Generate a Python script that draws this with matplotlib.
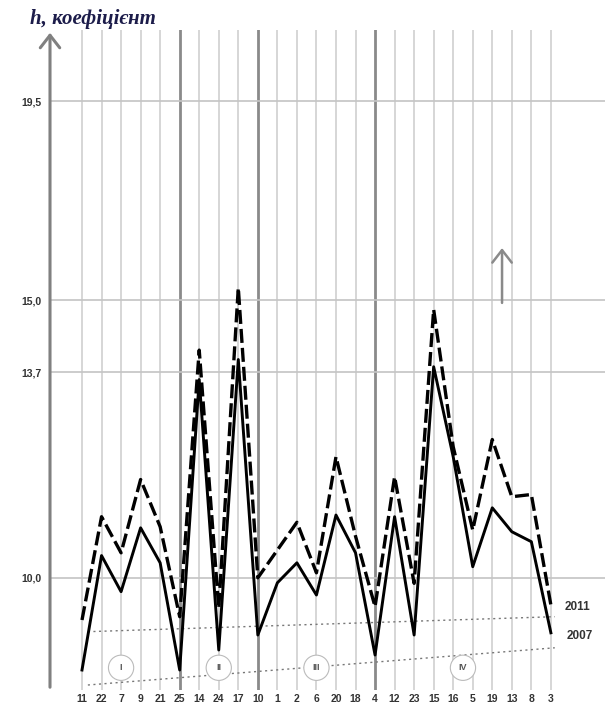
import numpy as np
import matplotlib
matplotlib.use('Agg')
import matplotlib.pyplot as plt

# дані з графіка
mista = ['11', '22', '7', '9', '21', '25', '14', '24', '17', '10', '1', '2', '6',
         '20', '18', '4', '12', '23', '15', '16', '5', '19', '13', '8', '3']
h_2007 = [8.34, 10.40, 9.75, 10.90, 10.27, 8.34, 13.57, 8.70, 13.93, 8.97, 9.91, 10.27, 9.69,
          11.13, 10.45, 8.61, 11.10, 8.97, 13.80, 12.18, 10.20, 11.26, 10.83, 10.65, 9.01]
h_2011 = [9.24, 11.10, 10.45, 11.77, 10.92, 9.30, 14.10, 9.45, 15.28, 10.00, 10.50, 11.00, 10.09,
          12.18, 10.75, 9.48, 11.82, 9.90, 14.83, 12.36, 10.86, 12.49, 11.46, 11.50, 9.51]
trend_x = [0.3, 24.2]
trend_2011 = [9.03, 9.30]
trend_2007 = [8.07, 8.74]
y_ticks = [10.0, 13.7, 15.0, 19.5]
y_labels = ['10,0', '13,7', '15,0', '19,5']
zony = ['I', 'II', 'III', 'IV']
zony_x = [2, 7, 12, 19.5]
grupy = [5, 9, 15]  # товсті лінії між зонами

# вісь y стиснута вище 15
k = 0.796
def fwd(v):
    return np.interp(v, [-100, 15, 100], [-100, 15, 15 + 85 * k])
def inv(u):
    return np.interp(u, [-100, 15, 15 + 85 * k], [-100, 15, 100])

fig = plt.figure(figsize=(6.09, 7.06), dpi=100)
ax = fig.add_axes([50 / 609, 1 - 690 / 706, 555 / 609, 660 / 706])
ax.set_yscale('function', functions=(fwd, inv))
ax.set_xlim(-1.638, 26.77)
ax.set_ylim(7.98, 21.11)
for s in ax.spines.values():
    s.set_visible(False)

x = np.arange(len(mista))
for i in x:
    if i in grupy:
        ax.axvline(i, color='#8a8a8a', lw=2.0, zorder=1)
    else:
        ax.axvline(i, color='#d0d0d0', lw=1.2, zorder=1)
for v in y_ticks:
    ax.axhline(v, color='#c4c4c4', lw=1.2, zorder=1)

ax.plot(trend_x, trend_2011, color='#777777', lw=1, ls=(0, (1.5, 2.5)), zorder=2)
ax.plot(trend_x, trend_2007, color='#777777', lw=1, ls=(0, (1.5, 2.5)), zorder=2)

ax.plot(x, h_2011, color='black', lw=2.4, ls=(0, (4.2, 1.5)), zorder=3)
ax.plot(x, h_2007, color='black', lw=2.1, zorder=4)

ax.set_xticks(x)
ax.set_xticklabels(mista, fontsize=7.5, fontweight='bold', color='#333333',
                   family='Liberation Sans')
ax.set_yticks(y_ticks)
ax.set_yticklabels(y_labels, fontsize=7.5, fontweight='bold', color='#333333',
                   family='Liberation Sans')
ax.tick_params(length=0, pad=3)
ax.tick_params(axis='y', pad=6)

for z, zx in zip(zony, zony_x):
    ax.text(zx, 8.38, z, ha='center', va='center', fontsize=6.5, fontweight='bold',
            color='#555555', family='Liberation Sans',
            bbox=dict(boxstyle='circle,pad=0.9', fc='white', ec='#bbbbbb', lw=0.8),
            zorder=5)

ax.text(24.7, 9.48, '2011', fontsize=8.5, fontweight='bold', color='#333333',
        va='center', family='Liberation Sans')
ax.text(24.8, 8.955, '2007', fontsize=8.5, fontweight='bold', color='#333333',
        va='center', family='Liberation Sans')

# вісь зі стрілкою
ax.annotate('', xy=(-1.638, 21.11), xytext=(-1.638, 7.98), annotation_clip=False,
            arrowprops=dict(arrowstyle='->,head_length=0.9,head_width=0.7',
                            color='#808080', lw=2.2))
ax.annotate('', xy=(21.5, 16.24), xytext=(21.5, 14.9), annotation_clip=False,
            arrowprops=dict(arrowstyle='->,head_length=0.9,head_width=0.7',
                            color='#8a8a8a', lw=1.8))

fig.text(30 / 609, 1 - 19 / 706, 'h, коефіцієнт', fontsize=15, style='italic',
         fontweight='bold', color='#1c1c4a', family='Liberation Serif', va='center')

fig.savefig('out.png', dpi=100)
